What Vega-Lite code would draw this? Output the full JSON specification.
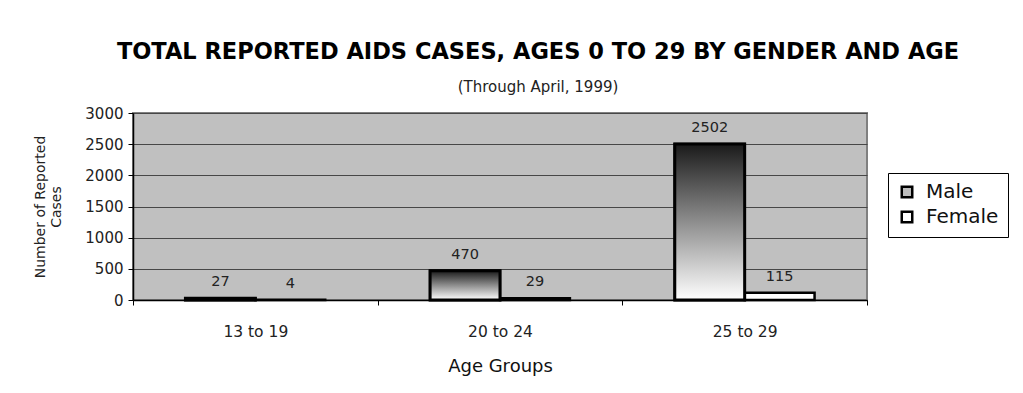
{
  "$schema": "https://vega.github.io/schema/vega-lite/v6.json",
  "autosize": {"type": "none"},
  "width": 734,
  "height": 187,
  "padding": {"left": 133, "top": 113, "right": 156, "bottom": 93},
  "background": "white",
  "title": {
    "text": "TOTAL REPORTED AIDS CASES, AGES 0 TO 29 BY GENDER AND AGE",
    "subtitle": "(Through April, 1999)",
    "anchor": "middle",
    "dx": 38,
    "offset": 11,
    "font": "DejaVu Sans",
    "fontSize": 22.5,
    "fontWeight": "bold",
    "color": "#000000",
    "subtitleFont": "DejaVu Sans",
    "subtitleFontSize": 15,
    "subtitleColor": "#222222",
    "subtitlePadding": 17
  },
  "data": {
    "values": [
      {"age": "13 to 19", "gender": "Male", "cases": 27},
      {"age": "13 to 19", "gender": "Female", "cases": 4},
      {"age": "20 to 24", "gender": "Male", "cases": 470},
      {"age": "20 to 24", "gender": "Female", "cases": 29},
      {"age": "25 to 29", "gender": "Male", "cases": 2502},
      {"age": "25 to 29", "gender": "Female", "cases": 115}
    ]
  },
  "encoding": {
    "x": {
      "field": "age",
      "type": "nominal",
      "sort": null,
      "scale": {"paddingInner": 0, "paddingOuter": 0},
      "axis": {
        "title": "Age Groups",
        "labelAngle": 0,
        "tickBand": "extent",
        "tickSize": 5,
        "tickColor": "#000000",
        "domainColor": "#000000",
        "domainWidth": 1.5,
        "labelFont": "DejaVu Sans",
        "labelFontSize": 15.5,
        "labelColor": "#222222",
        "labelPadding": 19,
        "titleFont": "DejaVu Sans",
        "titleFontSize": 18,
        "titleFontWeight": "normal",
        "titleColor": "#111111",
        "titlePadding": 18
      }
    },
    "xOffset": {
      "field": "gender",
      "type": "nominal",
      "sort": ["Male", "Female"],
      "scale": {"paddingOuter": 0.75, "paddingInner": 0}
    },
    "y": {
      "field": "cases",
      "type": "quantitative",
      "scale": {"domain": [0, 3000], "nice": false},
      "axis": {
        "title": ["Number of Reported", "Cases"],
        "values": [0, 500, 1000, 1500, 2000, 2500, 3000],
        "format": "d",
        "grid": true,
        "gridColor": "#474747",
        "gridWidth": 1,
        "tickSize": 5,
        "tickColor": "#000000",
        "domainColor": "#000000",
        "domainWidth": 1.5,
        "labelFont": "DejaVu Sans",
        "labelFontSize": 15,
        "labelColor": "#222222",
        "labelPadding": 5,
        "titleFont": "DejaVu Sans",
        "titleFontSize": 14,
        "titleFontWeight": "normal",
        "titleColor": "#222222",
        "titleLineHeight": 16,
        "titlePadding": 21
      }
    }
  },
  "layer": [
    {
      "mark": {"type": "bar", "stroke": "#000000", "strokeWidth": 2.5},
      "encoding": {
        "color": {
          "field": "gender",
          "type": "nominal",
          "sort": ["Male", "Female"],
          "scale": {"domain": ["Male", "Female"], "range": ["#bdbdbd", "#ffffff"]},
          "legend": {
            "title": null,
            "orient": "none",
            "legendX": 755,
            "legendY": 60,
            "strokeColor": "#000000",
            "fillColor": "#ffffff",
            "padding": 9,
            "symbolType": "square",
            "symbolSize": 110,
            "symbolStrokeColor": "#000000",
            "symbolStrokeWidth": 2.5,
            "labelFont": "DejaVu Sans",
            "labelFontSize": 20,
            "labelColor": "#111111",
            "labelOffset": 9,
            "rowPadding": 3
          }
        }
      }
    },
    {
      "transform": [{"filter": "datum.gender === 'Male'"}],
      "mark": {
        "type": "bar",
        "stroke": "#000000",
        "strokeWidth": 3,
        "fill": {
          "gradient": "linear",
          "x1": 0, "y1": 0, "x2": 0, "y2": 1,
          "stops": [
            {"offset": 0, "color": "#1a1a1a"},
            {"offset": 0.5, "color": "#8e8e8e"},
            {"offset": 1, "color": "#ffffff"}
          ]
        }
      }
    },
    {
      "mark": {
        "type": "text",
        "baseline": "bottom",
        "dy": -9,
        "font": "DejaVu Sans",
        "fontSize": 14.5,
        "color": "#222222"
      },
      "encoding": {"text": {"field": "cases", "type": "quantitative"}}
    }
  ],
  "config": {
    "view": {"fill": "#c0c0c0", "stroke": "#808080", "strokeWidth": 2}
  }
}
